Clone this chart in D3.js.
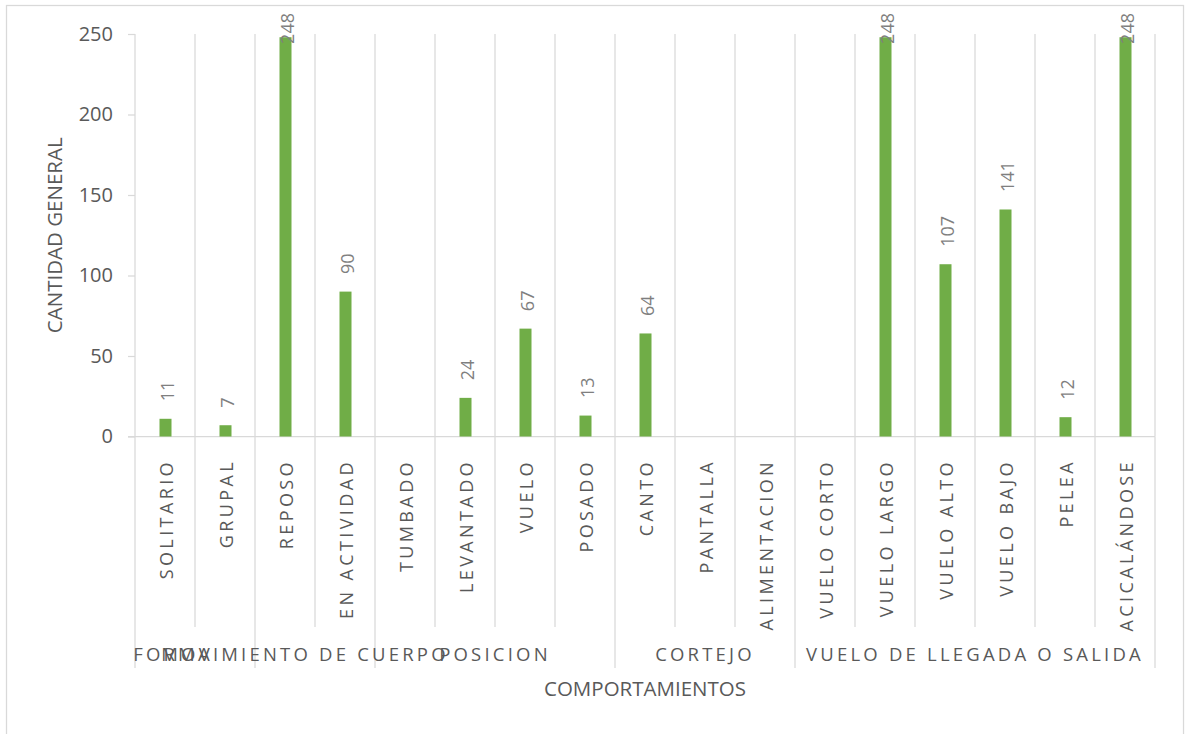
<!DOCTYPE html>
<html>
<head>
<meta charset="utf-8">
<script src="https://cdn.jsdelivr.net/npm/d3@7"></script>
<style>
  html, body { margin: 0; padding: 0; background: #ffffff; }
  svg { display: block; font-family: "Open Sans", "Liberation Sans", sans-serif; }
</style>
</head>
<body>
<svg id="chart" width="1192" height="734"></svg>
<script>
// Behaviour categories (first-level labels)
const categories = ["SOLITARIO", "GRUPAL", "REPOSO", "EN ACTIVIDAD", "TUMBADO", "LEVANTADO",
  "VUELO", "POSADO", "CANTO", "PANTALLA", "ALIMENTACION", "VUELO CORTO", "VUELO LARGO",
  "VUELO ALTO", "VUELO BAJO", "PELEA", "ACICALÁNDOSE"];
// Total count per category (null = no record)
const counts = [11, 7, 248, 90, null, 24, 67, 13, 64, null, null, null, 248, 107, 141, 12, 248];
// Second-level groups and how many categories each one spans
const groupNames = ["FORMA", "MOVIMIENTO DE CUERPO", "POSICION", "CORTEJO", "VUELO DE LLEGADA O SALIDA"];
const groupSizes = [2, 2, 4, 3, 6];
const yTicks = [0, 50, 100, 150, 200, 250];
const yTitle = "CANTIDAD GENERAL";
const xTitle = "COMPORTAMIENTOS";

// horizontal nudges for the crowded group labels on the left
const groupLabelShift = [-22, -10, 0, 0, 0];

const svg = d3.select("#chart");
const gridColor = "#d9d9d9";
const textColor = "#595959";

// chart frame (bottom edge runs past the page)
svg.append("rect")
  .attr("x", 6.5).attr("y", 5.5).attr("width", 1177).attr("height", 740)
  .attr("fill", "#ffffff").attr("stroke", gridColor).attr("stroke-width", 1.25);

const plot = { left: 135, right: 1155, top: 34, bottom: 436.5 };
const labelBottom = 627;   // end of category label band
const groupBottom = 668;   // end of group label band

const x = d3.scaleBand().domain(categories).range([plot.left, plot.right]).padding(0);
const y = d3.scaleLinear().domain([0, 250]).range([plot.bottom, plot.top]);

// category boundary positions
const bounds = categories.map(c => x(c)).concat([x(categories[categories.length - 1]) + x.bandwidth()]);

// vertical gridlines inside the plot
svg.append("g").selectAll("line").data(bounds.slice(1)).join("line")
  .attr("x1", d => d).attr("x2", d => d)
  .attr("y1", plot.top).attr("y2", plot.bottom)
  .attr("stroke", gridColor).attr("stroke-width", 1.25);

// category separators through the label band
svg.append("g").selectAll("line").data(bounds).join("line")
  .attr("x1", d => d).attr("x2", d => d)
  .attr("y1", plot.bottom).attr("y2", labelBottom)
  .attr("stroke", gridColor).attr("stroke-width", 1.25);

// group separators
const groupStarts = [];
let acc = 0;
groupSizes.forEach(n => { groupStarts.push(acc); acc += n; });
const groupBounds = groupStarts.map(i => bounds[i]).concat([bounds[bounds.length - 1]]);
svg.append("g").selectAll("line").data(groupBounds).join("line")
  .attr("x1", d => d).attr("x2", d => d)
  .attr("y1", labelBottom).attr("y2", groupBottom)
  .attr("stroke", gridColor).attr("stroke-width", 1.25);

// y axis
const yAxis = svg.append("g")
  .attr("transform", `translate(${plot.left},0)`)
  .call(d3.axisLeft(y).tickValues(yTicks).tickSize(7).tickPadding(15));
yAxis.select(".domain").attr("stroke", gridColor).attr("stroke-width", 1.25)
  .attr("d", `M0,${plot.top}V${plot.bottom}`);
yAxis.selectAll(".tick line").attr("stroke", gridColor).attr("stroke-width", 1.25);
yAxis.selectAll(".tick text")
  .attr("fill", textColor).attr("font-size", 20).attr("font-family", "Open Sans, sans-serif");

// baseline
svg.append("line")
  .attr("x1", plot.left - 7).attr("x2", plot.right)
  .attr("y1", y(0)).attr("y2", y(0))
  .attr("stroke", gridColor).attr("stroke-width", 1.25);

// bars
const barW = x.bandwidth() * 0.2;
const rows = categories.map((c, i) => ({ cat: c, value: counts[i] })).filter(d => d.value != null);
svg.append("g").selectAll("rect").data(rows).join("rect")
  .attr("x", d => x(d.cat) + x.bandwidth() / 2 - barW / 2 + 0.5)
  .attr("width", barW)
  .attr("y", d => y(d.value))
  .attr("height", d => y(0) - y(d.value))
  .attr("fill", "#70ad47");

// value labels, rotated, above each bar and kept inside the frame
const vl = svg.append("g").selectAll("text").data(rows).join("text")
  .text(d => d.value)
  .attr("font-size", 18)
  .attr("fill", "#7f7f7f")
  .attr("text-anchor", "start");
vl.each(function (d) {
  const len = this.getComputedTextLength();
  const cx = x(d.cat) + x.bandwidth() / 2 + 8.5;
  const yb = Math.max(y(d.value) - 17.5, 13 + len);
  d3.select(this).attr("transform", `translate(${cx},${yb}) rotate(-90)`);
});

// category labels
svg.append("g").selectAll("text").data(categories).join("text")
  .text(d => d)
  .attr("transform", d => `translate(${x(d) + x.bandwidth() / 2 + 7.5},${plot.bottom + 22.5}) rotate(-90)`)
  .attr("text-anchor", "end")
  .attr("font-size", 18)
  .attr("letter-spacing", 3.4)
  .attr("fill", textColor);

// group labels
svg.append("g").selectAll("text").data(groupNames).join("text")
  .text(d => d)
  .attr("x", (d, i) => (groupBounds[i] + groupBounds[i + 1]) / 2 + groupLabelShift[i])
  .attr("y", 661)
  .attr("text-anchor", "middle")
  .attr("font-size", 18.5)
  .attr("letter-spacing", 3.2)
  .attr("fill", textColor);

// axis titles
svg.append("text")
  .text(xTitle)
  .attr("x", (plot.left + plot.right) / 2).attr("y", 696)
  .attr("text-anchor", "middle")
  .attr("font-size", 20.5)
  .attr("fill", textColor);

svg.append("text")
  .text(yTitle)
  .attr("transform", `translate(62,${(plot.top + plot.bottom) / 2}) rotate(-90)`)
  .attr("text-anchor", "middle")
  .attr("font-size", 20.5)
  .attr("fill", textColor);
</script>
</body>
</html>
